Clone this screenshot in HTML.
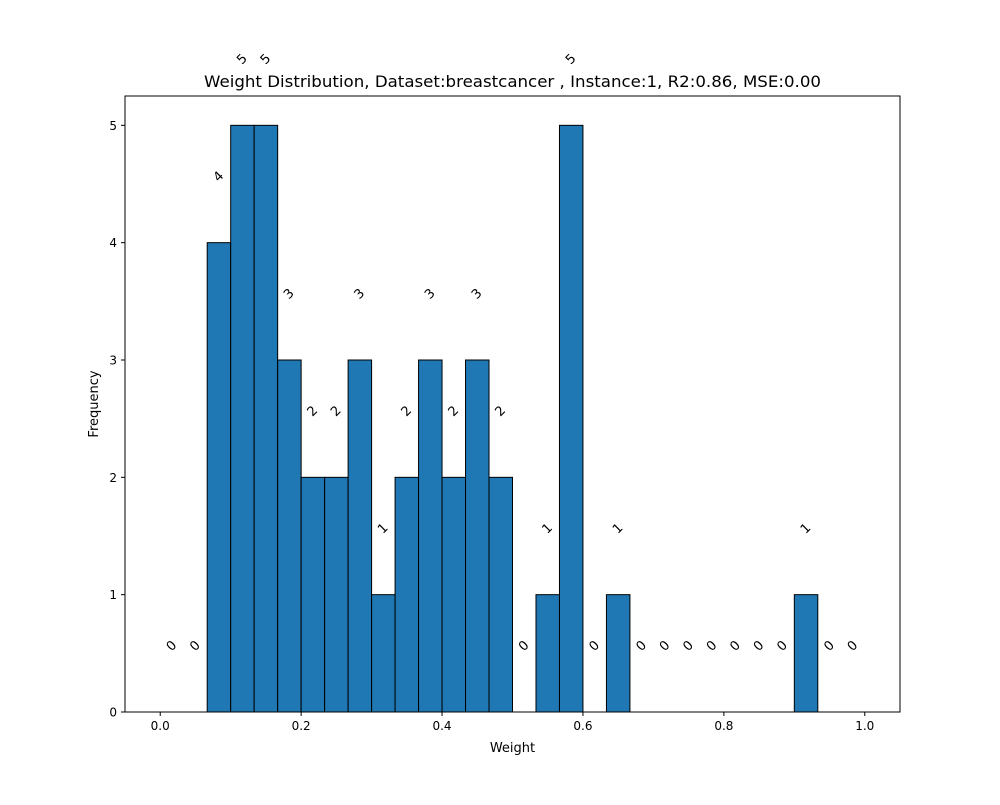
<!DOCTYPE html>
<html><head><meta charset="utf-8"><style>
html,body{margin:0;padding:0;background:#fff;}
svg text{font-family:"DejaVu Sans","Liberation Sans",sans-serif;}
</style></head><body>
<svg id="chart" width="1000" height="800" xmlns="http://www.w3.org/2000/svg">
<rect width="1000" height="800" fill="#fff"/>
<text x="512.5" y="87" font-size="16" text-anchor="middle" textLength="617" lengthAdjust="spacingAndGlyphs">Weight Distribution, Dataset:breastcancer , Instance:1, R2:0.86, MSE:0.00</text>
<text x="512.5" y="752" font-size="13" text-anchor="middle">Weight</text>
<text x="98" y="404" font-size="13" text-anchor="middle" transform="rotate(-90 98 404)">Frequency</text>
<g id="plot"></g>
</svg>
<script>
const counts = [0,0,4,5,5,3,2,2,3,1,2,3,2,3,2,0,1,5,0,1,0,0,0,0,0,0,0,1,0,0];
const xTicks = [0.0,0.2,0.4,0.6,0.8,1.0];
const xTickLabels = ["0.0","0.2","0.4","0.6","0.8","1.0"];
const yTicks = [0,1,2,3,4,5];
const yTickLabels = ["0","1","2","3","4","5"];

const L=125,R=900,T=96,B=712;
const xmin=-0.05,xmax=1.05,ymin=0,ymax=5.25;
const xs=v=>L+(v-xmin)/(xmax-xmin)*(R-L);
const ys=v=>B-(v-ymin)/(ymax-ymin)*(B-T);
const NS="http://www.w3.org/2000/svg";
const g=document.getElementById('plot');
function mk(tag,attrs){const e=document.createElementNS(NS,tag);for(const k in attrs)e.setAttribute(k,attrs[k]);g.appendChild(e);return e;}
const n=counts.length,w=1/n;
counts.forEach((c,i)=>{
  const x0=xs(i*w),x1=xs((i+1)*w);
  if(c>0){
    const r=mk('rect',{x:x0,y:ys(c),width:x1-x0,height:ys(0)-ys(c),fill:'#1f77b4',stroke:'#000','stroke-width':1});
    
    
  }
  const cx=xs((i+0.5)*w),cy=ys(c+0.56);
  const t=mk('text',{x:cx,y:cy,'font-size':13,'text-anchor':'middle','dominant-baseline':'middle',transform:`rotate(-45 ${cx} ${cy})`});
  t.textContent=String(c);
  
  
});
const fr=mk('rect',{x:L,y:T,width:R-L,height:B-T,fill:'none',stroke:'#000','stroke-width':1});


xTicks.forEach((v,i)=>{
  const x=xs(v);
  const l=mk('line',{x1:x,x2:x,y1:B,y2:B+4,stroke:'#000'});
  
  
  const t=mk('text',{x:x,y:B+18,'font-size':12,'text-anchor':'middle'});
  t.textContent=xTickLabels[i];
  
  
});
yTicks.forEach((v,i)=>{
  const y=ys(v);
  const l=mk('line',{x1:L-4,x2:L,y1:y,y2:y,stroke:'#000'});
  
  
  const t=mk('text',{x:L-8,y:y+4.5,'font-size':12,'text-anchor':'end'});
  t.textContent=yTickLabels[i];
  
  
});
</script>
</body></html>
